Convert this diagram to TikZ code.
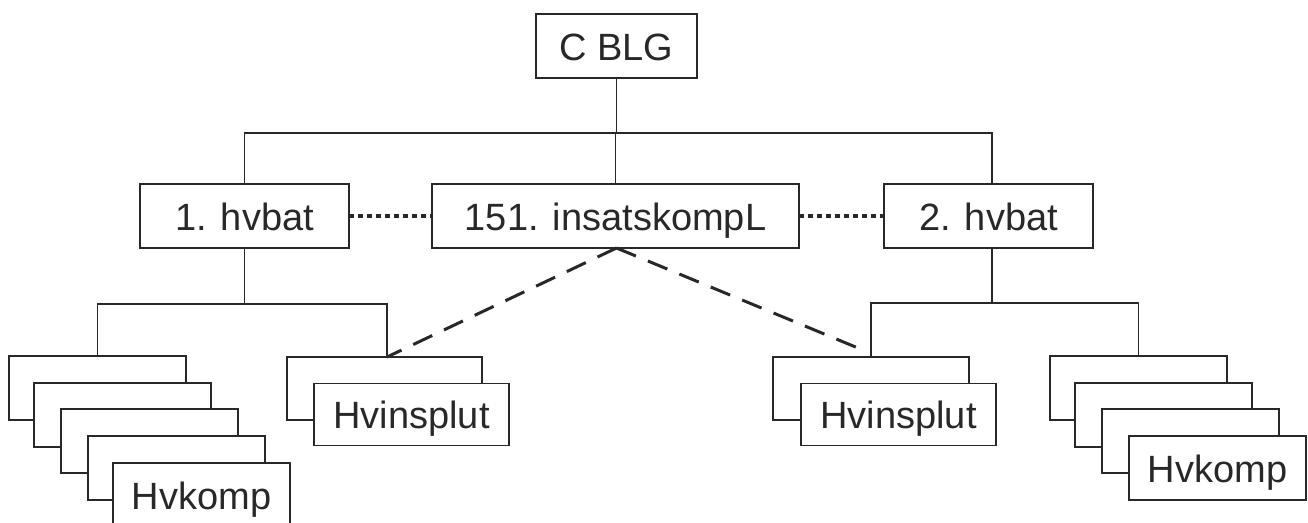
\documentclass[tikz,border=0pt]{standalone}
\usepackage{fontspec}
\setmainfont{Liberation Sans}
\definecolor{ink}{RGB}{40,40,40}
\begin{document}
\begin{tikzpicture}[x=1pt,y=-1pt,
  box/.style={draw=ink, line width=1.8pt, fill=white, inner sep=0pt, outer sep=0pt,
    font=\fontsize{38}{40}\selectfont, text=ink, anchor=center, minimum height=64pt,
    text height=28pt, text depth=0pt},
  conn/.style={draw=ink, line width=1.8pt},
  dotlink/.style={draw=ink, line width=3.5pt, dash pattern=on 4.5pt off 4.5pt},
  dashlink/.style={draw=ink, line width=3pt, dash pattern=on 21pt off 13pt}
]
\fill[white] (0,0) rectangle (1308,522);
\useasboundingbox (0,0) rectangle (1308,522);

% top levels
\node[box, minimum width=161pt] (cblg) at (616.5,46) {C BLG};
\node[box, minimum width=209pt] (hv1) at (244.5,216) {1. hvbat};
\node[box, minimum width=367pt] (ins) at (615.5,216) {151. insatskompL};
\node[box, minimum width=209pt] (hv2) at (988.5,216) {2. hvbat};

% left stack
\node[box, minimum width=177pt] (lk1) at (97.5,388) {};
\node[box, minimum width=177pt] (lk2) at (122.5,415) {};
\node[box, minimum width=177pt] (lk3) at (149.5,441) {};
\node[box, minimum width=177pt] (lk4) at (176.5,468) {};
\node[box, minimum width=177pt] (lk5) at (201.5,495) {Hvkomp};

% left Hvinsplut
\node[box, minimum width=195pt, minimum height=63pt] (li1) at (384.5,388.5) {};
\node[box, minimum width=195pt, minimum height=62pt] (li2) at (411.5,414.5) {Hvinsplut};

% right Hvinsplut
\node[box, minimum width=196pt, minimum height=63pt] (ri1) at (871,388.5) {};
\node[box, minimum width=195pt, minimum height=62pt] (ri2) at (898.5,414.5) {Hvinsplut};

% right stack
\node[box, minimum width=177pt] (rk1) at (1138.5,388) {};
\node[box, minimum width=177pt] (rk2) at (1163.5,415) {};
\node[box, minimum width=177pt] (rk3) at (1190.5,441) {};
\node[box, minimum width=177pt] (rk4) at (1217.5,468) {Hvkomp};

% bus coordinates
\coordinate (tbL) at (244.5,133);
\coordinate (tbR) at (992,133);
\coordinate (lbL) at (97.5,304);
\coordinate (lbR) at (387,304);
\coordinate (rbM) at (992,303);
\coordinate (rbL) at (871,303);
\coordinate (rbR) at (1138.5,303);
\coordinate (dashEnd) at (858,348);

% top bus
\draw[conn] (cblg.south) -- (cblg.south |- tbL);
\draw[conn] (hv1.north) -- (tbL) -- (tbR) -- (tbR |- hv2.north);
\draw[conn] (ins.north) -- (ins.north |- tbL);

% left lower bus
\draw[conn] (hv1.south) -- (hv1.south |- lbL);
\draw[conn] (lk1.north) -- (lbL) -- (lbR) -- (lbR |- li1.north);

% right lower bus
\draw[conn] (hv2.south -| rbM) -- (rbM);
\draw[conn] (ri1.north) -- (rbL) -- (rbR) -- (rk1.north);

% dotted links
\draw[dotlink] (hv1.east) -- (ins.west);
\draw[dotlink] (ins.east) -- (hv2.west);

% dashed links
\draw[dashlink] ([xshift=1pt]ins.south) -- (lbR |- li1.north);
\draw[dashlink] ([xshift=1pt]ins.south) -- (dashEnd);
\end{tikzpicture}
\end{document}
